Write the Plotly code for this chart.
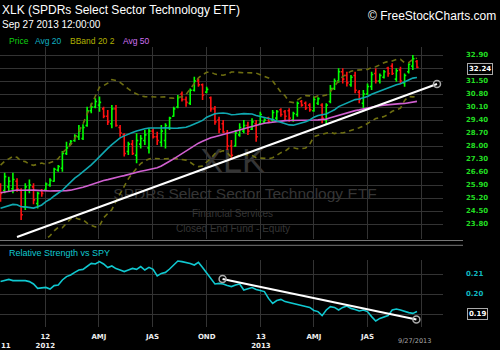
import pandas as pd
import plotly.graph_objects as go

W, H = 500, 350
PLOT_R = 443  # right edge of plotting area (px)

# ---------------- data ----------------
week_start = pd.date_range("2011-10-17", periods=102, freq="7D")

opens = [25.80, 25.60, 25.80, 25.70, 26.10, 25.60, 24.70, 25.60, 25.80, 24.90,
         25.60, 25.65, 25.90, 26.10, 26.70, 26.80, 27.60, 28.10, 28.30, 28.50,
         28.40, 29.10, 29.90, 30.10, 30.20, 30.00, 29.60, 29.20, 30.00, 29.00,
         28.60, 27.70, 28.10, 27.50, 28.10, 28.30, 27.90, 28.80, 28.50, 28.20,
         28.30, 29.00, 29.60, 30.10, 30.80, 30.50, 30.30, 31.00, 31.50, 31.30,
         30.90, 30.60, 30.00, 29.40, 29.20, 28.70, 28.00, 28.00, 28.60, 28.80,
         29.10, 28.90, 29.20, 29.20, 29.30, 29.50, 29.40, 29.50, 29.95, 29.85,
         29.90, 29.40, 29.70, 30.40, 30.30, 30.20, 29.90, 30.30, 30.20, 29.40,
         30.40, 31.10, 31.50, 32.00, 31.80, 31.30, 31.80, 30.90, 30.30, 30.80,
         31.20, 31.90, 31.50, 31.70, 32.20, 32.30, 31.60, 32.10, 31.40, 32.00,
         32.30, 32.55]
highs = [25.99, 26.56, 26.35, 26.56, 26.26, 25.72, 25.99, 26.20, 25.99, 25.54,
         25.68, 26.04, 26.26, 26.83, 26.98, 27.73, 28.23, 28.32, 28.63, 29.13,
         29.17, 30.12, 30.30, 30.57, 30.66, 30.12, 29.94, 30.21, 30.21, 29.13,
         28.68, 28.23, 28.32, 28.68, 28.59, 28.86, 28.95, 28.95, 28.77, 29.13,
         29.22, 29.58, 30.12, 30.75, 30.93, 30.66, 31.10, 31.73, 31.64, 31.37,
         31.19, 30.66, 30.15, 29.58, 29.40, 28.86, 28.32, 28.86, 29.22, 29.40,
         29.31, 29.49, 29.40, 29.85, 29.49, 29.58, 29.94, 29.94, 30.03, 29.94,
         30.03, 29.85, 30.39, 30.48, 30.39, 30.30, 30.66, 30.62, 30.30, 30.30,
         31.28, 31.64, 32.18, 32.18, 32.00, 31.82, 32.00, 31.02, 31.02, 31.37,
         32.00, 32.18, 31.91, 32.09, 32.27, 32.45, 32.18, 32.27, 31.91, 32.45,
         32.90, 32.63]
lows = [25.00, 25.45, 25.54, 25.45, 25.54, 24.01, 24.55, 25.45, 24.86, 24.64,
        25.27, 25.58, 25.81, 26.08, 26.62, 26.62, 27.52, 28.05, 28.23, 28.32,
        28.32, 29.04, 29.76, 30.03, 29.85, 29.49, 29.13, 28.95, 29.04, 28.50,
        27.43, 27.52, 27.52, 27.07, 27.87, 28.05, 27.60, 28.41, 28.05, 27.96,
        27.87, 28.86, 29.58, 30.03, 30.39, 30.12, 30.21, 30.93, 31.19, 30.48,
        30.84, 29.85, 29.15, 28.68, 28.68, 27.78, 27.25, 27.96, 28.50, 28.68,
        28.59, 28.86, 28.23, 29.13, 29.22, 29.22, 29.31, 29.40, 29.58, 29.40,
        29.31, 29.31, 29.58, 30.12, 29.94, 29.85, 29.85, 30.21, 29.22, 29.13,
        30.30, 31.02, 31.40, 31.37, 31.20, 31.19, 30.84, 30.30, 30.05, 30.75,
        31.02, 31.37, 31.37, 31.64, 31.73, 31.82, 31.46, 31.37, 31.19, 31.91,
        32.09, 32.18]
closes = [25.45, 26.35, 26.10, 26.20, 25.70, 24.30, 25.80, 25.90, 25.10, 25.45,
          25.45, 25.95, 26.15, 26.75, 26.90, 27.60, 27.90, 28.25, 28.55, 28.80,
          29.00, 29.90, 30.10, 30.40, 30.35, 29.60, 29.30, 30.00, 29.10, 28.70,
          27.60, 28.10, 27.60, 28.30, 28.40, 28.60, 28.80, 28.50, 28.30, 28.80,
          29.10, 29.50, 30.00, 30.60, 30.50, 30.35, 31.00, 31.50, 31.30, 30.75,
          31.05, 30.00, 29.30, 28.90, 28.75, 28.00, 27.50, 28.70, 29.00, 29.10,
          28.80, 29.30, 28.50, 29.70, 29.40, 29.30, 29.80, 29.85, 29.70, 29.60,
          29.50, 29.75, 30.30, 30.20, 30.05, 29.95, 30.50, 30.55, 29.50, 30.20,
          31.10, 31.50, 32.00, 31.60, 31.40, 31.70, 31.00, 30.50, 30.80, 31.20,
          31.85, 31.50, 31.80, 32.00, 31.90, 31.90, 32.05, 31.50, 31.80, 32.40,
          32.70, 32.24]
# weekly closes before the first visible bar (moving-average warm-up)
prior_closes = [24.0, 24.1, 24.0, 24.8, 25.0, 25.3, 25.4, 25.6,
                26.1, 26.6, 26.3, 26.2, 26.7, 27.2, 27.5, 27.0, 26.9, 26.2,
                25.8, 26.3, 26.5, 26.2, 25.9, 26.6, 27.2, 26.9, 26.6, 26.4,
                26.5, 25.2, 24.7, 24.8, 25.0, 26.1, 26.4, 26.0, 26.7, 25.6,
                23.9, 23.6, 22.4, 23.6, 23.2, 23.7, 24.6, 23.5, 23.6, 24.5, 25.6]

rs_vs_spy = [0.2062, 0.2067, 0.2073, 0.2067, 0.2067, 0.2067, 0.2067, 0.2062, 0.2050, 0.2028,
             0.2032, 0.2033, 0.2025, 0.2042, 0.2045, 0.2070, 0.2087, 0.2095, 0.2108, 0.2120,
             0.2123, 0.2137, 0.2153, 0.2150, 0.2162, 0.2150, 0.2132, 0.2140, 0.2127, 0.2120,
             0.2112, 0.2120, 0.2128, 0.2123, 0.2137, 0.2120, 0.2133, 0.2123, 0.2090, 0.2103,
             0.2108, 0.2125, 0.2145, 0.2165, 0.2162, 0.2158, 0.2153, 0.2145, 0.2158, 0.2133,
             0.2107, 0.2078, 0.2050, 0.2053, 0.2050, 0.2042, 0.2037, 0.2045, 0.2050, 0.2020,
             0.2025, 0.2032, 0.2023, 0.2017, 0.2012, 0.1978, 0.1953, 0.1967, 0.1973, 0.1962,
             0.1957, 0.1953, 0.1947, 0.1943, 0.1940, 0.1933, 0.1918, 0.1912, 0.1892, 0.1920,
             0.1937, 0.1933, 0.1920, 0.1933, 0.1940, 0.1928, 0.1923, 0.1915, 0.1920, 0.1912,
             0.1887, 0.1865, 0.1878, 0.1887, 0.1892, 0.1920, 0.1925, 0.1920, 0.1913, 0.1907,
             0.1903, 0.1912]

price_ticks = [32.90, 32.20, 31.50, 30.80, 30.10, 29.40, 28.70, 28.00, 27.30, 26.60,
               25.90, 25.20, 24.50, 23.80]
price_tick_text = ["32.90", "", "31.50", "30.80", "30.10", "29.40", "28.70", "28.00",
                   "27.30", "26.60", "25.90", "25.20", "24.50", "23.80"]
rs_ticks = [0.21, 0.20, 0.19]
rs_tick_text = ["0.21", "0.20", ""]
quarter_ticks = ["2012-01-01", "2012-04-01", "2012-07-01", "2012-10-01",
                 "2013-01-01", "2013-04-01", "2013-07-01", "2013-10-01"]
quarter_text = ["12<br>2012", "AMJ", "JAS", "OND", "13<br>2013", "AMJ", "JAS", ""]

trend_dates = ["2011-11-14", "2013-10-27"]
trend_prices = [23.10, 31.34]
rs_trend_dates = ["2012-10-28", "2013-09-22"]
rs_trend_values = [0.2075, 0.1873]
last_price = 32.24
last_rs = 0.19

# ---------------- derived indicators ----------------
s = pd.Series(prior_closes + closes)
n_prior = len(prior_closes)
sma20 = s.rolling(20).mean().iloc[n_prior:].tolist()
std20 = s.rolling(20).std(ddof=0).iloc[n_prior:]
bb_up = (pd.Series(sma20, index=std20.index) + 2 * std20).tolist()
bb_dn = (pd.Series(sma20, index=std20.index) - 2 * std20).tolist()
sma50 = s.rolling(50).mean().iloc[n_prior:].tolist()


def px(x):
    return x / PLOT_R


def py(y):
    return 1 - y / H


X_RANGE = ["2011-10-16 02:00", "2013-11-06 05:00"]
Y1_RANGE = [22.992, 33.331]
Y2_RANGE = [0.1835, 0.2170]

GRID = "#333333"
GREEN_LBL = "#22dd22"
CYAN = "#10b8c0"
FONT = "Liberation Sans"
SMALL = "DejaVu Sans"
RING = dict(symbol="circle-open", size=7, color="#aaaaaa", line=dict(color="#aaaaaa", width=1.5))

fig = go.Figure()

# Bollinger bands
for band in (bb_up, bb_dn):
    fig.add_trace(go.Scatter(x=week_start, y=band, mode="lines",
                             line=dict(color="#6e6e10", width=1.6, dash="5px,4px"),
                             hoverinfo="skip", showlegend=False, xaxis="x", yaxis="y"))
fig.add_trace(go.Scatter(x=week_start, y=sma50, mode="lines",
                         line=dict(color="#d060d0", width=1.6),
                         hoverinfo="skip", showlegend=False, xaxis="x", yaxis="y"))
fig.add_trace(go.Scatter(x=week_start, y=sma20, mode="lines",
                         line=dict(color="#10a8b0", width=1.6),
                         hoverinfo="skip", showlegend=False, xaxis="x", yaxis="y"))
fig.add_trace(go.Ohlc(x=week_start, open=opens, high=highs, low=lows, close=closes,
                      increasing=dict(line=dict(color="#00ff00", width=1.6)),
                      decreasing=dict(line=dict(color="#ff1010", width=1.6)),
                      tickwidth=0.4, hoverinfo="skip", showlegend=False,
                      xaxis="x", yaxis="y"))
# trend line (price)
fig.add_trace(go.Scatter(x=trend_dates, y=trend_prices, mode="lines",
                         line=dict(color="#ffffff", width=2),
                         hoverinfo="skip", showlegend=False, xaxis="x", yaxis="y"))
fig.add_trace(go.Scatter(x=trend_dates[1:], y=trend_prices[1:], mode="markers",
                         marker=RING, hoverinfo="skip", showlegend=False,
                         xaxis="x", yaxis="y"))

# relative strength panel
fig.add_trace(go.Scatter(x=week_start, y=rs_vs_spy, mode="lines",
                         line=dict(color="#10c8d0", width=1.6),
                         hoverinfo="skip", showlegend=False, xaxis="x2", yaxis="y2"))
fig.add_trace(go.Scatter(x=rs_trend_dates, y=rs_trend_values, mode="lines",
                         line=dict(color="#ffffff", width=2),
                         hoverinfo="skip", showlegend=False, xaxis="x2", yaxis="y2"))
fig.add_trace(go.Scatter(x=rs_trend_dates, y=rs_trend_values, mode="markers",
                         marker=RING, hoverinfo="skip", showlegend=False,
                         xaxis="x2", yaxis="y2"))

fig.update_layout(
    width=W, height=H,
    margin=dict(l=0, r=W - PLOT_R, t=0, b=0, pad=0),
    paper_bgcolor="#000000", plot_bgcolor="#000000",
    font=dict(family=FONT, color="#ffffff"),
    showlegend=False,
    xaxis=dict(domain=[0, 1], range=X_RANGE, anchor="y", type="date",
               tickvals=quarter_ticks, showticklabels=False, ticks="",
               showgrid=True, gridcolor=GRID, gridwidth=1, zeroline=False,
               showline=False, rangeslider=dict(visible=False), automargin=False),
    yaxis=dict(domain=[py(239), py(47)], range=Y1_RANGE, anchor="x", side="right",
               tickvals=price_ticks, ticktext=price_tick_text, ticks="",
               tickfont=dict(family=SMALL, size=7, color=GREEN_LBL, weight="bold"),
               ticklabelstandoff=22,
               showgrid=True, gridcolor=GRID, gridwidth=1, zeroline=False,
               showline=False, automargin=False),
    xaxis2=dict(domain=[0, 1], range=X_RANGE, anchor="y2", type="date",
                tickvals=quarter_ticks, ticktext=quarter_text, ticks="",
                tickfont=dict(family=SMALL, size=7, color="#eeeeee", weight="bold"),
                ticklabelstandoff=4,
                showgrid=True, gridcolor=GRID, gridwidth=1, zeroline=False,
                showline=False, automargin=False),
    yaxis2=dict(domain=[py(327), py(260)], range=Y2_RANGE, anchor="x2", side="right",
                tickvals=rs_ticks, ticktext=rs_tick_text, ticks="",
                tickfont=dict(family=SMALL, size=7, color=CYAN, weight="bold"),
                ticklabelstandoff=22,
                showgrid=True, gridcolor=GRID, gridwidth=1, zeroline=False,
                showline=False, automargin=False),
)

# divider lines between panels
for yy in (240.5, 245.3):
    fig.add_shape(type="line", xref="paper", yref="paper", x0=0, x1=463 / PLOT_R,
                  y0=py(yy), y1=py(yy), line=dict(color="#777777", width=1))

# watermark (under the data)
wm = [("XLK", 232.5, 157, 34), ("SPDRs Select Sector Technology ETF", 245, 192, 15.5),
      ("Financial Services", 232.5, 212, 10), ("Closed End Fund - Equity", 233, 227, 10)]
for txt, cx, cy, fs in wm:
    fig.add_shape(type="rect", xref="paper", yref="paper",
                  x0=px(cx - 150), x1=px(cx + 150), y0=py(cy + 10), y1=py(cy - 10),
                  line=dict(width=0), fillcolor="rgba(0,0,0,0)", layer="between",
                  label=dict(text=txt, textposition="middle center",
                             font=dict(family=FONT, size=fs, color="#353535")))

ann = []


def text(t, x, y, size, color, xanchor="left", family=FONT, weight="normal", **kw):
    ann.append(dict(text=t, xref="paper", yref="paper", x=px(x), y=py(y),
                    xanchor=xanchor, yanchor="middle", showarrow=False,
                    font=dict(family=family, size=size, color=color, weight=weight), **kw))


text("XLK (SPDRs Select Sector Technology ETF)", 0, 10, 12, "#ffffff")
text("Sep 27 2013 12:00:00", 0, 25, 10, "#ffffff")
text("© FreeStockCharts.com", 498, 16, 12, "#ffffff", xanchor="right")
text("Price", 7, 41, 8.5, "#10d010")
text("Avg 20", 33, 41, 8.5, "#10b0c0")
text("BBand 20 2", 68, 41, 8.5, "#b0b000")
text("Avg 50", 121, 41, 8.5, "#d070f0")
text("Relative Strength vs SPY", 7, 253, 9, "#10c8d0")
text("11", -1, 346, 7, "#eeeeee", family=SMALL, weight="bold")
text("9/27/2013", 414.5, 340.5, 6.5, "#aaaaaa", xanchor="center", family=SMALL)

ann.append(dict(text="%.2f" % last_price, xref="paper", yref="y", x=px(479.5), y=last_price,
                yshift=-1.5, xanchor="center", yanchor="middle", showarrow=False,
                font=dict(family=SMALL, size=7, color="#ffffff", weight="bold"),
                bgcolor="#000000", bordercolor="#aaaaaa", borderwidth=1, borderpad=1))
ann.append(dict(text="%.2f" % last_rs, xref="paper", yref="y2", x=px(477.5), y=last_rs,
                xanchor="center", yanchor="middle", showarrow=False,
                font=dict(family=SMALL, size=7, color="#ffffff", weight="bold"),
                bgcolor="#000000", bordercolor="#aaaaaa", borderwidth=1, borderpad=1))
fig.update_layout(annotations=ann)

fig.write_html("out.html", config={"displayModeBar": False})
